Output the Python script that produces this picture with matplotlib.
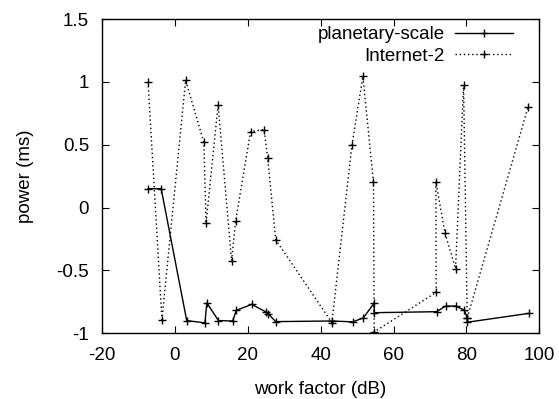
import matplotlib
matplotlib.use("Agg")
import matplotlib.pyplot as plt

# planetary-scale (solid)
planetary_x = [-7.3, -3.7, 3.3, 8.3, 8.8, 12.0, 15.9, 16.9, 21.1, 24.9, 25.6,
               27.7, 43.1, 48.8, 51.7, 54.7, 54.7, 71.8, 74.3, 77.0, 79.4,
               80.2, 80.2, 97.2]
planetary_y = [0.15, 0.15, -0.90, -0.918, -0.758, -0.90, -0.903, -0.818,
               -0.771, -0.829, -0.845, -0.908, -0.903, -0.91, -0.879, -0.76,
               -0.837, -0.829, -0.784, -0.784, -0.816, -0.88, -0.913, -0.842]

# Internet-2 (dotted)
internet2_x = [-7.3, -3.5, 3.0, 8.0, 8.6, 11.9, 15.6, 16.7, 20.8, 24.5, 25.5,
               27.7, 43.1, 48.6, 51.6, 54.5, 54.7, 71.7, 71.6, 74.1, 77.0,
               79.2, 80.2, 96.9]
internet2_y = [1.00, -0.892, 1.013, 0.519, -0.126, 0.818, -0.423, -0.107,
               0.605, 0.621, 0.392, -0.257, -0.916, 0.497, 1.045, 0.20,
               -0.99, -0.675, 0.205, -0.202, -0.486, 0.976, -0.88, 0.803]

XTICKS = [-20, 0, 20, 40, 60, 80, 100]
YTICKS = [-1, -0.5, 0, 0.5, 1, 1.5]

plt.rcParams["font.family"] = ["Liberation Sans", "DejaVu Sans"]
plt.rcParams["axes.unicode_minus"] = False
FS = 13.5

fig = plt.figure(figsize=(5.59, 3.99), dpi=100)
ax = fig.add_axes([0.182, 0.165, 0.783, 0.787])

ax.plot(planetary_x, planetary_y, color="black", lw=1.0, marker="+",
        markersize=6, markeredgewidth=1.0, label="planetary-scale")
ax.plot(internet2_x, internet2_y, color="black", lw=1.0, ls=(0, (1, 2)),
        marker="+", markersize=6, markeredgewidth=1.0, label="Internet-2")

ax.set_xlim(-20, 100)
ax.set_ylim(-1, 1.5)
ax.set_xticks(XTICKS)
ax.set_yticks(YTICKS)
ax.set_yticklabels(["%g" % v for v in YTICKS])
ax.tick_params(direction="in", top=True, right=True, length=5, width=0.8,
               labelsize=FS)
ax.tick_params(axis="x", pad=10)
ax.tick_params(axis="y", pad=9)
for s in ax.spines.values():
    s.set_linewidth(1.0)

ax.set_xlabel("work factor (dB)", fontsize=FS, labelpad=12)
ax.set_ylabel("power (ms)", fontsize=FS, labelpad=16)

leg = ax.legend(loc="upper right", bbox_to_anchor=(0.948, 0.99),
                frameon=False, fontsize=FS, markerfirst=False,
                handlelength=3.1, borderaxespad=0.0, borderpad=0.2,
                labelspacing=0.25, handletextpad=0.55)
for t in leg.get_texts():
    t.set_ha("right")

fig.savefig("out.png", dpi=100)
